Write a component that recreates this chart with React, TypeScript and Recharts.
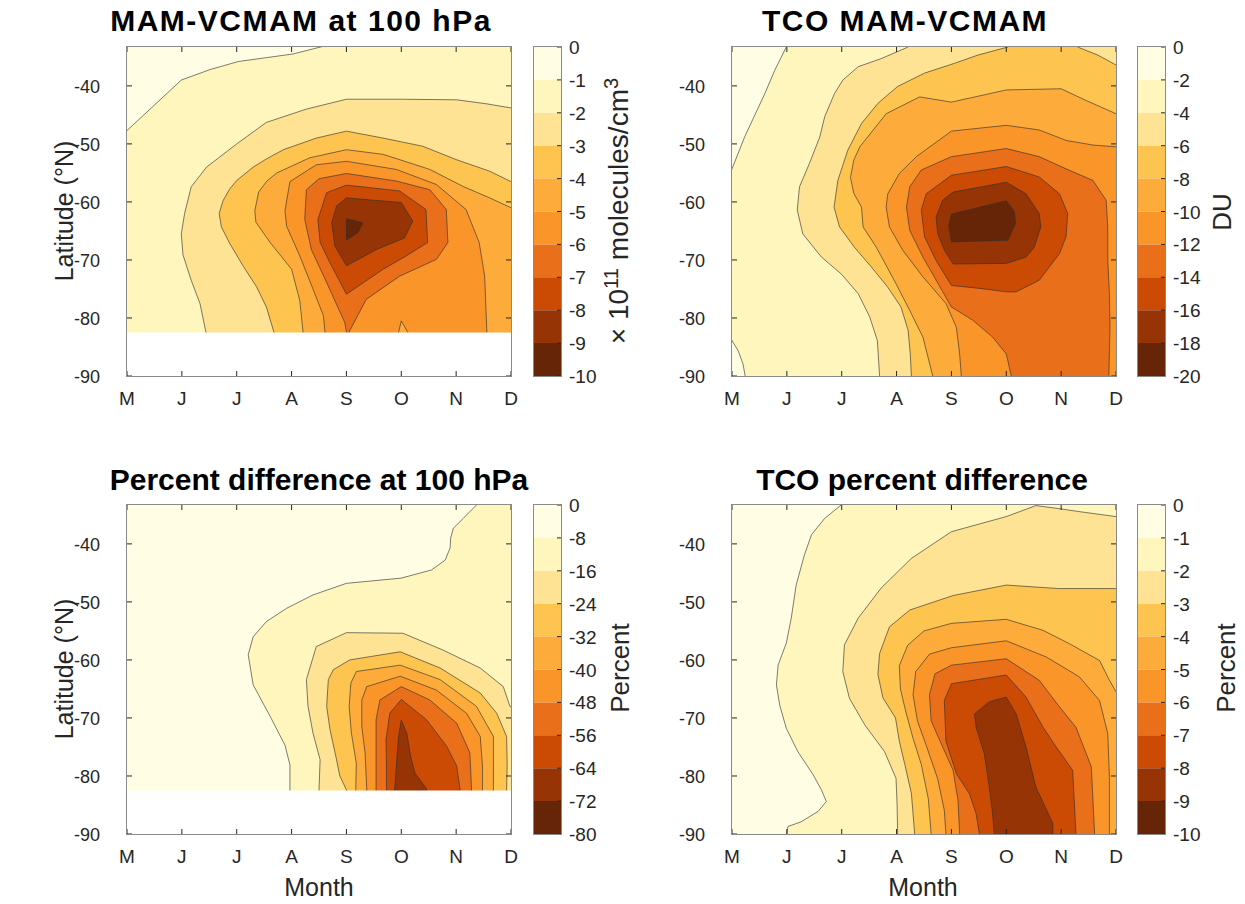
import React from "react";
import { ScatterChart, Scatter, XAxis, YAxis, BarChart, Bar } from "recharts";

type Poly = [number, number][];

const MONTHS = ["M", "J", "J", "A", "S", "O", "N", "D"];
const MONTH_TICKS = [0, 1, 2, 3, 4, 5, 6, 7];
const LAT_TICKS = [-90, -80, -70, -60, -50, -40];
const LAT_TOP = -33.3;
const FLOOR_100HPA = -82.5;

const LEVELS_TL = [0, -1, -2, -3, -4, -5, -6, -7, -8, -9, -10];
const LEVELS_TR = [0, -2, -4, -6, -8, -10, -12, -14, -16, -18, -20];
const LEVELS_BL = [0, -8, -16, -24, -32, -40, -48, -56, -64, -72, -80];
const LEVELS_BR = [0, -1, -2, -3, -4, -5, -6, -7, -8, -9, -10];

const COLORS = [
  "#FFFEE4", "#FFF6BD", "#FEE394", "#FEC450", "#FDAC3B",
  "#FA952A", "#EA6F1A", "#CB4B05", "#973405", "#662506",
];

// contour regions, [month index, latitude]; each level = area below that level
// MAM-VCMAM at 100 hPa
const tlL1: Poly = [[-0.2,-49.4],[0,-47.7],[0.99,-39.0],[1.51,-37.2],[2.03,-35.8],[3.03,-34.5],[3.61,-33.1],[3.75,-30],[7.5,-30],[7.5,-95],[-0.2,-95],[-0.2,-49.4]];
const tlL2: Poly = [[1.44,-95],[1.44,-82.5],[1.33,-77.5],[1.17,-73.5],[1.02,-69.1],[0.99,-65.5],[1.05,-62.0],[1.17,-57.4],[1.45,-54.0],[2.0,-50.0],[2.54,-46.3],[3.27,-44.0],[4.0,-42.3],[5.0,-42.3],[6.01,-42.4],[6.56,-43.1],[7.0,-43.8],[7.3,-44.3],[7.3,-95],[1.44,-95]];
const tlL3: Poly = [[2.68,-95],[2.68,-82.5],[2.54,-78.1],[2.36,-74.6],[2.12,-71.1],[1.87,-67.1],[1.72,-64.3],[1.68,-62.0],[1.75,-59.8],[1.87,-57.8],[2.0,-56.3],[2.3,-54.0],[2.54,-52.6],[2.85,-51.0],[3.45,-49.0],[4.0,-47.8],[4.67,-49.0],[5.39,-50.4],[6.0,-52.7],[6.61,-54.7],[7.0,-56.5],[7.3,-57.9],[7.3,-95],[2.68,-95]];
const tlL4: Poly = [[3.21,-95],[3.21,-82.5],[3.15,-77.0],[3.0,-71.6],[2.61,-67.0],[2.35,-63.5],[2.33,-61.5],[2.4,-58.3],[2.55,-56.4],[2.73,-55.0],[3.33,-52.4],[4.0,-51.0],[4.67,-51.8],[5.52,-54.4],[6.12,-57.3],[6.61,-59.3],[7.0,-61.0],[7.3,-62.3],[7.3,-95],[3.21,-95]];
const tlL5: Poly = [[3.61,-95],[3.61,-82.5],[3.58,-79.6],[3.39,-75.0],[3.15,-69.3],[2.91,-64.2],[2.88,-61.5],[2.97,-56.5],[3.45,-53.6],[4.0,-53.0],[4.91,-54.4],[5.64,-57.0],[6.18,-61.3],[6.42,-67.0],[6.52,-72.8],[6.56,-82.5],[6.56,-95],[5.14,-95],[5.12,-82.5],[5.0,-80.5],[4.95,-82.5],[4.93,-95],[3.61,-95]];
const tlL6: Poly = [[4.02,-83.5],[3.97,-80.8],[3.64,-73.9],[3.36,-68.2],[3.24,-63.0],[3.27,-57.9],[3.5,-56.0],[4.0,-55.1],[4.91,-56.4],[5.52,-57.9],[5.82,-61.3],[5.85,-67.0],[5.64,-69.9],[4.97,-72.8],[4.36,-76.8],[4.06,-82.2],[4.02,-83.5]];
const tlL7: Poly = [[4.0,-75.9],[3.7,-70.5],[3.52,-67.0],[3.48,-63.0],[3.64,-58.4],[4.0,-57.1],[4.97,-58.1],[5.45,-61.3],[5.48,-67.0],[5.09,-69.3],[4.67,-71.6],[4.0,-75.9]];
const tlL8: Poly = [[4.0,-71.0],[3.79,-67.6],[3.73,-63.6],[3.82,-60.7],[4.0,-59.3],[5.0,-60.1],[5.21,-63.3],[5.06,-66.2],[4.55,-68.2],[4.0,-71.0]];
const tlL9: Poly = [[4.0,-62.9],[4.3,-63.6],[4.21,-65.3],[4.0,-66.6],[4.0,-62.9]];

// TCO MAM-VCMAM
const trL1: Poly = [[-0.1,-56.7],[0,-54.3],[0.23,-48.8],[0.6,-41.3],[0.78,-37.3],[0.99,-33.3],[1.1,-31],[7.5,-31],[7.5,-95],[0.3,-95],[0.25,-91],[0.24,-90],[0.2,-87.9],[0.11,-85.6],[0,-83.9],[-0.1,-82.6],[-0.1,-56.7]];
const trL2: Poly = [[2.72,-95],[2.69,-90],[2.65,-83.9],[2.51,-79.8],[2.3,-75.8],[1.99,-72.4],[1.63,-69.5],[1.29,-65.5],[1.19,-61.4],[1.23,-57.4],[1.41,-53.4],[1.6,-48.8],[1.69,-45.3],[1.87,-41.3],[2.02,-39.0],[2.3,-36.7],[2.72,-35.3],[3.21,-33.3],[3.35,-31],[7.5,-31],[7.5,-95],[2.72,-95]];
const trL3: Poly = [[3.29,-95],[3.27,-90],[3.25,-86.2],[3.21,-82.1],[3.08,-78.1],[2.84,-74.7],[2.54,-71.2],[2.23,-67.8],[1.96,-64.3],[1.86,-60.9],[1.93,-56.3],[2.11,-51.1],[2.36,-46.5],[2.66,-43.0],[3.02,-40.1],[3.51,-37.8],[4.06,-36.1],[4.48,-34.7],[5.03,-33.3],[5.1,-31],[6.25,-31],[6.3,-33.3],[6.67,-34.7],[7.0,-36.4],[7.3,-37.8],[7.3,-95],[3.29,-95]];
const trL4: Poly = [[3.68,-95],[3.66,-90],[3.48,-83.3],[3.24,-78.7],[2.99,-74.1],[2.63,-67.8],[2.39,-64.3],[2.36,-60.9],[2.22,-58.5],[2.16,-55.8],[2.22,-52.8],[2.33,-50.5],[2.81,-44.8],[3.42,-41.9],[4.0,-42.8],[5.0,-40.7],[6.0,-40.5],[6.45,-42.5],[7.0,-44.8],[7.3,-46],[7.3,-95],[3.68,-95]];
const trL5: Poly = [[4.24,-95],[4.18,-90],[4.15,-86.2],[4.09,-81.6],[3.9,-77.5],[3.48,-72.9],[3.11,-68.3],[2.87,-64.3],[2.81,-60.9],[2.84,-58.6],[3.05,-55.1],[3.36,-52.2],[4.0,-47.8],[5.0,-46.8],[5.6,-47.6],[6.09,-49.4],[6.58,-50.2],[7.0,-50.5],[7.3,-50.7],[7.3,-95],[4.24,-95]];
const trL6: Poly = [[5.1,-95],[5.09,-89.9],[5.0,-86.2],[4.75,-83.3],[4.39,-80.4],[4.0,-78.1],[3.48,-69.5],[3.24,-64.9],[3.18,-60.9],[3.24,-57.4],[3.45,-54.5],[4.0,-52.2],[5.0,-50.8],[5.6,-52.2],[6.09,-54.3],[6.58,-56.3],[6.82,-59.7],[6.85,-64.3],[6.85,-70.1],[6.88,-75.8],[6.89,-81.6],[6.87,-89.9],[6.87,-95],[5.1,-95]];
const trL7: Poly = [[3.45,-61.4],[3.54,-58.6],[4.0,-55.4],[5.0,-53.9],[5.6,-55.7],[5.97,-58.6],[6.12,-62.0],[6.09,-66.0],[5.97,-68.9],[5.6,-73.5],[5.18,-75.5],[5.0,-75.5],[4.51,-74.9],[4.0,-74.4],[3.72,-70.1],[3.51,-66.0],[3.45,-61.4]];
const trL8: Poly = [[3.72,-62.6],[3.84,-59.7],[4.03,-58.3],[5.0,-56.6],[5.36,-58.6],[5.6,-62.0],[5.63,-64.3],[5.51,-67.8],[5.36,-69.5],[5.0,-70.6],[4.03,-70.7],[3.87,-68.3],[3.75,-65.5],[3.72,-62.6]];
const trL9: Poly = [[4.0,-62.1],[5.0,-59.8],[5.15,-61.7],[5.17,-63.7],[5.03,-66.6],[4.0,-66.9],[3.95,-64.0],[4.0,-62.1]];

// Percent difference at 100 hPa
const blL1: Poly = [[2.97,-95],[2.97,-82.4],[2.97,-78.1],[2.88,-74.7],[2.63,-70.1],[2.3,-64.3],[2.21,-59.1],[2.3,-56.0],[2.54,-53.4],[2.91,-51.1],[3.39,-48.8],[4.0,-46.8],[5.0,-45.9],[5.55,-44.5],[5.8,-42.8],[5.89,-40.7],[5.9,-39.0],[5.95,-37.3],[6.13,-35.6],[6.37,-33.3],[6.5,-31],[7.5,-31],[7.5,-95],[2.97,-95]];
const blL2: Poly = [[3.5,-95],[3.5,-82.4],[3.52,-77.2],[3.39,-72.6],[3.3,-68.0],[3.27,-63.4],[3.45,-57.7],[4.0,-55.3],[5.03,-55.4],[5.76,-58.3],[6.44,-61.4],[6.86,-64.6],[6.98,-68.0],[7.3,-69.5],[7.3,-95],[3.5,-95]];
const blL3: Poly = [[4.0,-95],[4.0,-82.4],[3.88,-80.0],[3.82,-77.2],[3.7,-72.0],[3.64,-68.0],[3.67,-63.4],[3.76,-61.7],[4.06,-60.0],[4.98,-58.6],[5.71,-61.4],[6.44,-65.7],[6.74,-69.2],[6.92,-73.2],[6.93,-78.0],[6.92,-82.4],[6.92,-95],[4.0,-95]];
const blL4: Poly = [[4.17,-95],[4.17,-82.2],[4.18,-77.8],[4.09,-72.6],[4.05,-68.0],[4.08,-64.0],[4.18,-62.0],[4.98,-60.9],[5.71,-63.4],[6.37,-68.0],[6.68,-73.2],[6.68,-78.3],[6.68,-95],[4.17,-95]];
const blL5: Poly = [[4.37,-95],[4.37,-82.2],[4.34,-76.0],[4.28,-71.5],[4.28,-66.9],[4.37,-64.6],[4.98,-62.8],[5.64,-65.2],[6.19,-69.2],[6.44,-73.2],[6.48,-78.3],[6.48,-95],[4.37,-95]];
const blL6: Poly = [[4.54,-95],[4.54,-82.2],[4.54,-76.0],[4.54,-70.3],[4.61,-66.9],[5.0,-64.6],[5.52,-66.9],[6.01,-70.9],[6.25,-76.0],[6.28,-82.2],[6.28,-95],[4.54,-95]];
const blL7: Poly = [[4.73,-95],[4.73,-82.2],[4.73,-78.3],[4.72,-73.8],[4.79,-69.2],[5.0,-66.8],[5.46,-70.3],[5.83,-74.9],[6.01,-78.3],[6.07,-82.2],[6.07,-95],[4.73,-95]];
const blL8: Poly = [[4.88,-95],[4.88,-82.2],[4.91,-78.3],[4.95,-73.2],[5.0,-70.4],[5.1,-72.6],[5.17,-76.6],[5.25,-79.5],[5.46,-82.2],[5.48,-95],[4.88,-95]];

// TCO percent difference
const brL1: Poly = [[1.0,-95],[1.0,-90],[1.02,-88.7],[1.26,-87.9],[1.57,-86.1],[1.72,-84.4],[1.63,-82.4],[1.48,-79.8],[1.2,-75.8],[0.99,-71.8],[0.87,-67.8],[0.81,-64.3],[0.84,-60.9],[0.99,-57.1],[1.08,-52.8],[1.17,-47.1],[1.32,-41.9],[1.45,-38.4],[1.69,-35.6],[1.99,-33.3],[2.1,-31],[7.5,-31],[7.5,-95],[1.0,-95]];
const brL2: Poly = [[3.02,-95],[3.02,-90],[3.01,-85.0],[2.99,-80.4],[2.78,-75.8],[2.42,-71.2],[2.14,-66.6],[2.02,-62.0],[2.05,-57.4],[2.3,-52.8],[2.72,-47.6],[3.27,-42.5],[4.0,-37.9],[5.0,-35.3],[5.54,-33.4],[5.94,-33.9],[6.3,-34.4],[7.0,-35.3],[7.3,-35.7],[7.3,-95],[3.02,-95]];
const brL3: Poly = [[3.33,-95],[3.33,-90],[3.27,-83.0],[3.15,-78.0],[3.05,-74.0],[2.98,-70.0],[2.75,-66.5],[2.66,-62.5],[2.69,-58.9],[2.87,-54.3],[3.24,-51.4],[4.03,-48.9],[5.0,-47.1],[5.95,-47.7],[7.0,-47.7],[7.3,-47.7],[7.3,-95],[3.33,-95]];
const brL4: Poly = [[3.63,-95],[3.63,-90],[3.58,-84.0],[3.45,-78.0],[3.3,-73.5],[3.17,-69.0],[3.07,-65.0],[3.05,-61.0],[3.2,-57.5],[3.5,-55.0],[4.0,-53.7],[5.0,-53.0],[5.67,-54.9],[6.15,-57.2],[6.7,-60.1],[6.88,-63.5],[7.0,-65.5],[7.3,-68],[7.3,-95],[3.63,-95]];
const brL5: Poly = [[3.9,-95],[3.9,-90],[3.87,-85.9],[3.75,-80.5],[3.55,-75.0],[3.38,-70.5],[3.3,-66.0],[3.35,-62.0],[3.6,-59.0],[4.0,-57.9],[5.0,-56.7],[5.73,-59.5],[6.33,-62.9],[6.7,-67.0],[6.85,-72.7],[6.88,-80.2],[6.88,-95],[3.9,-95]];
const brL6: Poly = [[4.15,-95],[4.15,-90],[4.12,-84.2],[4.03,-79.0],[3.84,-75.0],[3.63,-70.5],[3.6,-66.0],[3.7,-62.4],[4.0,-60.9],[5.0,-59.8],[5.6,-63.5],[5.97,-68.1],[6.27,-71.6],[6.55,-78.4],[6.61,-90],[6.61,-95],[4.15,-95]];
const brL7: Poly = [[4.51,-95],[4.51,-90],[4.45,-86.5],[4.33,-83.1],[4.09,-79.6],[3.9,-74.0],[3.87,-67.0],[4.0,-64.1],[5.0,-62.6],[5.36,-66.4],[5.67,-71.6],[5.91,-75.0],[6.21,-79.0],[6.27,-90],[6.27,-95],[4.51,-95]];
const brL8: Poly = [[4.78,-95],[4.78,-90],[4.75,-86.5],[4.69,-81.9],[4.6,-76.2],[4.45,-71.6],[4.42,-69.3],[4.69,-67.2],[5.0,-66.4],[5.18,-69.3],[5.36,-75.0],[5.54,-81.9],[5.85,-88.2],[5.85,-95],[4.78,-95]];

const BACKGROUND: Poly = [[-1,-100],[8,-100],[8,-25],[-1,-25],[-1,-100]];
const CUT_100HPA: Poly = [[-1,-100],[8,-100],[8,FLOOR_100HPA],[-1,FLOOR_100HPA],[-1,-100]];

const PW = 384;
const PH = 329;
const FONT = "'Liberation Sans', Arial, Helvetica, sans-serif";
const TEXT = "#262626";
const TICK = "#262626";
const LINE = "#303030";

const toPts = (poly: Poly) => poly.map(([x, y]) => ({ x, y }));
const NoDot = () => <g />;

function XTick(props: any) {
  const { x, y, payload } = props;
  return (
    <g>
      <line x1={x} x2={x} y1={y} y2={y - 5} stroke={TICK} strokeWidth={1} />
      <line x1={x} x2={x} y1={y - PH} y2={y - PH + 5} stroke={TICK} strokeWidth={1} />
      <text x={x} y={y + 29} textAnchor="middle" fontSize={19} fill={TEXT} fontFamily={FONT}>
        {MONTHS[payload.value]}
      </text>
    </g>
  );
}

function YTick(props: any) {
  const { x, y, payload } = props;
  return (
    <g>
      <line x1={x} x2={x + 5} y1={y} y2={y} stroke={TICK} strokeWidth={1} />
      <line x1={x + PW} x2={x + PW - 5} y1={y} y2={y} stroke={TICK} strokeWidth={1} />
      <text x={x - 27} y={y + 7} textAnchor="end" fontSize={18} fill={TEXT} fontFamily={FONT}>
        {payload.value}
      </text>
    </g>
  );
}

function CbTick(props: any) {
  const { x, y, payload } = props;
  return (
    <g>
      <line x1={x - 4} x2={x} y1={y} y2={y} stroke={TICK} strokeWidth={1} />
      <text x={x + 8} y={y + 7} textAnchor="start" fontSize={19} fill={TEXT} fontFamily={FONT}>
        {payload.value}
      </text>
    </g>
  );
}

function ContourPanel({ left, top, contours, cut }: { left: number; top: number; contours: Poly[]; cut?: Poly }) {
  const polys = [BACKGROUND, ...contours];
  return (
    <div style={{ position: "absolute", left: left - 80, top: top - 10 }}>
      <ScatterChart width={80 + PW + 10} height={10 + PH + 45} margin={{ top: 10, right: 10, bottom: 10, left: 20 }}>
        {polys.map((poly, i) => (
          <Scatter
            key={i}
            data={toPts(poly)}
            fill={COLORS[i]}
            line={{ fill: COLORS[i], stroke: i === 0 ? "none" : LINE, strokeWidth: 0.7, strokeOpacity: 0.9 }}
            shape={NoDot}
            isAnimationActive={false}
            zIndex={100}
          />
        ))}
        {cut && (
          <Scatter
            data={toPts(cut)}
            fill="#ffffff"
            line={{ fill: "#ffffff", stroke: "none" }}
            shape={NoDot}
            isAnimationActive={false}
            zIndex={100}
          />
        )}
        <XAxis
          type="number"
          dataKey="x"
          domain={[0, 7]}
          ticks={MONTH_TICKS}
          interval={0}
          allowDataOverflow
          height={35}
          tickSize={0}
          tickMargin={0}
          tickLine={false}
          axisLine={false}
          tick={(p: any) => <XTick {...p} />}
        />
        <YAxis
          type="number"
          dataKey="y"
          domain={[-90, LAT_TOP]}
          ticks={LAT_TICKS}
          interval={0}
          allowDataOverflow
          width={60}
          tickSize={0}
          tickMargin={0}
          tickLine={false}
          axisLine={false}
          tick={(p: any) => <YTick {...p} />}
        />
      </ScatterChart>
      <div
        style={{
          position: "absolute",
          left: 79,
          top: 9,
          width: PW + 2,
          height: PH + 2,
          boxSizing: "border-box",
          border: "1px solid #8a8a8a",
          pointerEvents: "none",
        }}
      />
    </div>
  );
}

function ColorBar({ left, top, levels }: { left: number; top: number; levels: number[] }) {
  const row: Record<string, number | string> = { name: "cb" };
  levels.slice(1).forEach((v, i) => {
    row["b" + i] = v - levels[i];
  });
  const pad = 14;
  return (
    <div style={{ position: "absolute", left, top: top - pad }}>
      <BarChart
        width={27 + 60}
        height={PH + 2 * pad}
        data={[row]}
        margin={{ top: pad, right: 0, bottom: pad, left: 0 }}
        barCategoryGap={0}
        barGap={0}
      >
        <XAxis dataKey="name" hide />
        <YAxis
          orientation="right"
          type="number"
          domain={[levels[levels.length - 1], 0]}
          ticks={levels}
          interval={0}
          allowDataOverflow
          width={60}
          tickSize={0}
          tickMargin={0}
          tickLine={false}
          axisLine={false}
          tick={(p: any) => <CbTick {...p} />}
        />
        {levels.slice(1).map((_, i) => (
          <Bar key={i} dataKey={"b" + i} stackId="cb" fill={COLORS[i]} isAnimationActive={false} />
        ))}
      </BarChart>
      <div
        style={{
          position: "absolute",
          left: -1,
          top: pad - 1,
          width: 29,
          height: PH + 2,
          boxSizing: "border-box",
          border: "1px solid #8a8a8a",
          pointerEvents: "none",
        }}
      />
    </div>
  );
}

function Label({
  cx,
  cy,
  size,
  bold,
  rotate,
  spacing,
  children,
}: {
  cx: number;
  cy: number;
  size: number;
  bold?: boolean;
  rotate?: boolean;
  spacing?: number;
  children: React.ReactNode;
}) {
  return (
    <div
      style={{
        position: "absolute",
        left: cx,
        top: cy,
        transform: `translate(-50%, -50%)${rotate ? " rotate(-90deg)" : ""}`,
        whiteSpace: "nowrap",
        fontFamily: FONT,
        fontSize: size,
        fontWeight: bold ? 700 : 400,
        letterSpacing: spacing ?? 0,
        lineHeight: 1,
        color: bold ? "#000" : TEXT,
      }}
    >
      {children}
    </div>
  );
}

export default function App() {
  return (
    <div style={{ position: "absolute", left: 0, top: 0, width: 1245, height: 904, background: "#fff", overflow: "hidden" }}>
      <ContourPanel left={127} top={47} contours={[tlL1, tlL2, tlL3, tlL4, tlL5, tlL6, tlL7, tlL8, tlL9]} cut={CUT_100HPA} />
      <ContourPanel left={732} top={47} contours={[trL1, trL2, trL3, trL4, trL5, trL6, trL7, trL8, trL9]} />
      <ContourPanel left={127} top={505} contours={[blL1, blL2, blL3, blL4, blL5, blL6, blL7, blL8]} cut={CUT_100HPA} />
      <ContourPanel left={732} top={505} contours={[brL1, brL2, brL3, brL4, brL5, brL6, brL7, brL8]} />

      <ColorBar left={534} top={47} levels={LEVELS_TL} />
      <ColorBar left={1138} top={47} levels={LEVELS_TR} />
      <ColorBar left={534} top={505} levels={LEVELS_BL} />
      <ColorBar left={1138} top={505} levels={LEVELS_BR} />

      <Label cx={301} cy={21} size={30} bold spacing={1.5}>MAM-VCMAM at 100 hPa</Label>
      <Label cx={905} cy={21} size={30} bold spacing={1.5}>TCO MAM-VCMAM</Label>
      <Label cx={319} cy={480} size={30} bold>Percent difference at 100 hPa</Label>
      <Label cx={922} cy={480} size={30} bold>TCO percent difference</Label>

      <Label cx={64} cy={211} size={25} rotate>Latitude (°N)</Label>
      <Label cx={64} cy={669} size={25} rotate>Latitude (°N)</Label>
      <Label cx={319} cy={887} size={25}>Month</Label>
      <Label cx={923} cy={887} size={25}>Month</Label>

      <Label cx={617} cy={211} size={28} rotate>
        × 10<sup style={{ fontSize: "0.72em" }}>11</sup> molecules/cm<sup style={{ fontSize: "0.72em" }}>3</sup>
      </Label>
      <Label cx={1222} cy={212} size={26} rotate>DU</Label>
      <Label cx={620} cy={668} size={26} rotate>Percent</Label>
      <Label cx={1226} cy={668} size={26} rotate>Percent</Label>
    </div>
  );
}
